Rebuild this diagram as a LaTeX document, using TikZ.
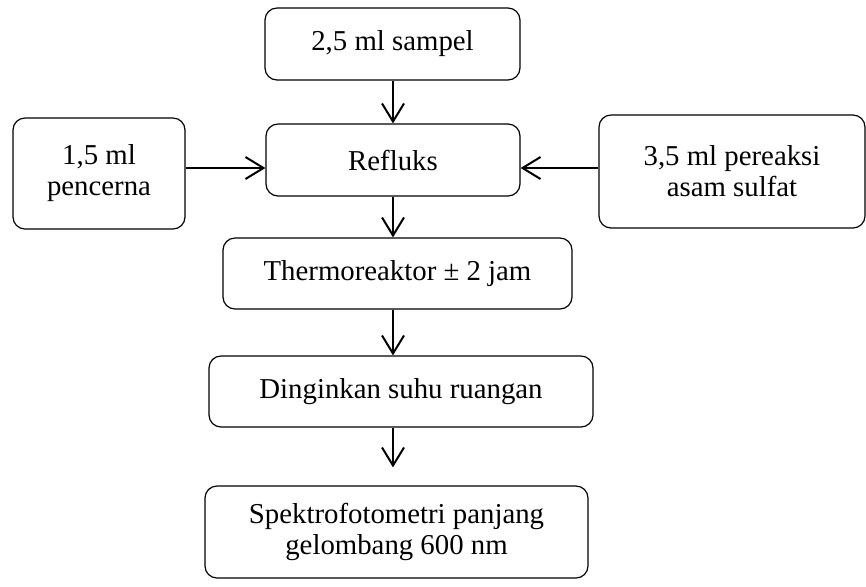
\documentclass[tikz,border=0pt]{standalone}
\usepackage{fontspec}
\setmainfont{Liberation Serif}
\usetikzlibrary{arrows.meta}

\begin{document}
\begin{tikzpicture}[x=0.5pt,y=-0.5pt,
  box/.style={draw, rounded corners=6pt, align=center, inner sep=0pt,
    line width=0.6pt, font=\fontsize{14.4}{15.5}\selectfont},
  arr/.style={-{Straight Barb[length=9pt,width=11pt]}, line width=1pt}]

\useasboundingbox (0,0) rectangle (866,586);

\node[box, minimum width=127.5pt, minimum height=36pt] at (392.5,44) (sampel) {2,5 ml sampel};
\node[box, minimum width=127pt, minimum height=36pt] at (393,160) (refluks) {Refluks};
\node[box, minimum width=86pt, minimum height=55.5pt] at (99,173.5) (pencerna) {1,5 ml\\pencerna};
\node[box, minimum width=133pt, minimum height=56.5pt] at (732,171.5) (pereaksi) {3,5 ml pereaksi\\asam sulfat};
\node[box, minimum width=174.5pt, minimum height=35.5pt] at (397.5,273.5) (thermo) {Thermoreaktor ± 2 jam};
\node[box, minimum width=192pt, minimum height=35.5pt] at (401,391.5) (dingin) {Dinginkan suhu ruangan};
\node[box, minimum width=191.5pt, minimum height=46pt] at (396.5,532) (spektro) {Spektrofotometri panjang\\gelombang 600 nm};

\coordinate (refin) at ([yshift=-4pt]refluks.west);
\coordinate (refout) at ([yshift=-4pt]refluks.east);

\draw[arr] (sampel.south -| refluks.south) -- (refluks.north);
\draw[arr] (pencerna.east |- refin) -- (refin);
\draw[arr] (pereaksi.west |- refout) -- (refout);
\draw[arr] (refluks.south) -- (refluks.south |- thermo.north);
\draw[arr] (refluks.south |- thermo.south) -- (refluks.south |- dingin.north);
\draw[arr, shorten >=9pt] (refluks.south |- dingin.south) -- (refluks.south |- spektro.north);

\end{tikzpicture}
\end{document}
